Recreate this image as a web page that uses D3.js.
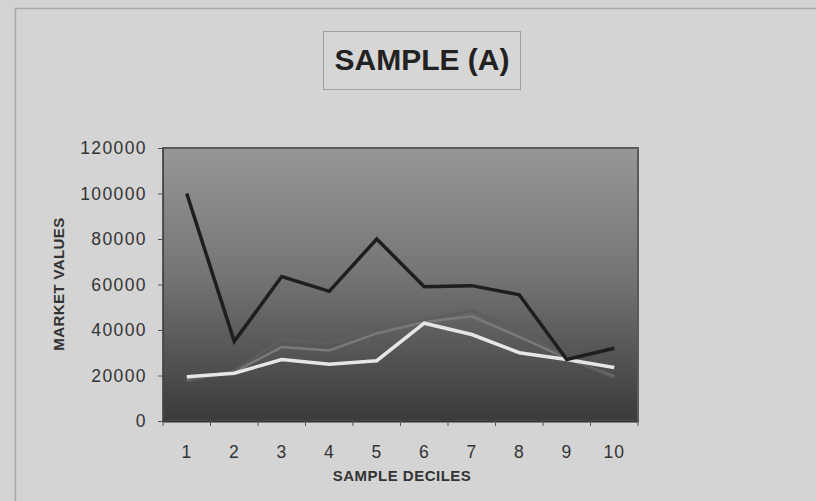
<!DOCTYPE html>
<html>
<head>
<meta charset="utf-8">
<script src="https://cdn.jsdelivr.net/npm/d3@7"></script>
<style>
  body { margin: 0; background: #d3d3d3; }
  svg { display: block; }
</style>
</head>
<body>
<svg width="816" height="501"></svg>
<script>
// Данные графика
const deciles = ["1", "2", "3", "4", "5", "6", "7", "8", "9", "10"];
const seriesBlack = [100000, 35000, 63500, 57000, 80000, 59000, 59500, 55500, 27000, 32000];
const seriesGray = [17500, 22000, 36000, 34000, 41000, 44500, 48500, 39500, 28000, 19000];
const seriesLightGray = [18000, 21500, 32500, 31000, 38500, 43500, 46000, 37000, 27500, 19500];
const seriesWhite = [19500, 21000, 27000, 25000, 26500, 43000, 38000, 30000, 27000, 23500];
const yTicks = [0, 20000, 40000, 60000, 80000, 100000, 120000];

const svg = d3.select("svg");
const font = "Liberation Sans, Arial, sans-serif";

// внешняя рамка
svg.append("rect")
   .attr("x", 15.5).attr("y", 8.5)
   .attr("width", 830).attr("height", 520)
   .attr("fill", "#d4d4d4")
   .attr("stroke", "#a8a8a8")
   .attr("stroke-width", 1.5);

// заголовок
svg.append("rect")
   .attr("x", 323.5).attr("y", 31.5)
   .attr("width", 197).attr("height", 58)
   .attr("fill", "#d6d6d6")
   .attr("stroke", "#a0a0a0");

svg.append("text")
   .attr("x", 422).attr("y", 70)
   .attr("text-anchor", "middle")
   .style("font-family", font)
   .style("font-weight", "bold")
   .style("font-size", "30px")
   .attr("fill", "#222")
   .text("SAMPLE (A)");

const area = { left: 163, top: 148, right: 638, bottom: 421 };

const scaleX = d3.scaleBand()
    .domain(deciles)
    .range([area.left, area.right]);

const scaleY = d3.scaleLinear()
    .domain([0, 120000])
    .range([area.bottom, area.top]);

// градиент фона
const defs = svg.append("defs");
const grad = defs.append("linearGradient")
    .attr("id", "plotGrad")
    .attr("x1", 0).attr("y1", 0).attr("x2", 0).attr("y2", 1);
grad.append("stop").attr("offset", "0%").attr("stop-color", "#979797");
grad.append("stop").attr("offset", "45%").attr("stop-color", "#767676");
grad.append("stop").attr("offset", "100%").attr("stop-color", "#3a3a3a");

svg.append("rect")
   .attr("x", area.left).attr("y", area.top)
   .attr("width", area.right - area.left)
   .attr("height", area.bottom - area.top)
   .attr("fill", "url(#plotGrad)")
   .attr("stroke", "#5a5a5a")
   .attr("stroke-width", 2);

// оси
const axisY = d3.axisLeft(scaleY).tickValues(yTicks).tickFormat(d3.format("d")).tickSize(5).tickPadding(11);
const gY = svg.append("g")
    .attr("transform", `translate(${area.left},0)`)
    .call(axisY);
gY.select(".domain").attr("stroke", "#444");
gY.selectAll(".tick line").attr("stroke", "#555");
gY.selectAll("text")
  .style("font-family", font)
  .style("font-size", "17.5px")
  .style("letter-spacing", "1.4px")
  .attr("fill", "#333");

const axisX = d3.axisBottom(scaleX).tickSize(0).tickPadding(25);
const gX = svg.append("g")
    .attr("transform", `translate(0,${area.bottom})`)
    .call(axisX);
gX.select(".domain").attr("stroke", "#333").attr("stroke-width", 2);
gX.selectAll("text")
  .style("font-family", font)
  .style("font-size", "17.5px")
  .style("letter-spacing", "1px")
  .attr("fill", "#333");

// засечки между категориями
const bounds = deciles.map(d => scaleX(d)).concat([area.right]);
svg.append("g").selectAll("line")
   .data(bounds)
   .enter()
   .append("line")
   .attr("x1", d => d).attr("x2", d => d)
   .attr("y1", area.bottom).attr("y2", area.bottom + 5)
   .attr("stroke", "#555");

// подписи осей
svg.append("text")
   .attr("transform", "translate(64,284) rotate(-90)")
   .attr("text-anchor", "middle")
   .style("font-family", font)
   .style("font-weight", "bold")
   .style("font-size", "15px")
   .style("letter-spacing", "0.4px")
   .attr("fill", "#333")
   .text("MARKET VALUES");

svg.append("text")
   .attr("x", 402).attr("y", 481)
   .attr("text-anchor", "middle")
   .style("font-family", font)
   .style("font-weight", "bold")
   .style("font-size", "15px")
   .style("letter-spacing", "0.5px")
   .attr("fill", "#333")
   .text("SAMPLE DECILES");

// линии
function createLine(values, color, width) {
    const line = d3.line()
        .x((d, i) => scaleX(deciles[i]) + scaleX.bandwidth() / 2)
        .y(d => scaleY(d));
    svg.append("path")
       .datum(values)
       .attr("fill", "none")
       .attr("stroke", color)
       .attr("stroke-width", width)
       .attr("stroke-linejoin", "miter")
       .attr("d", line);
}

createLine(seriesLightGray, "#7a7a7a", 2.5);
createLine(seriesGray, "#5e5e5e", 2.5);
createLine(seriesWhite, "#e6e6e6", 3.5);
createLine(seriesBlack, "#1e1e1e", 3.5);
</script>
</body>
</html>
